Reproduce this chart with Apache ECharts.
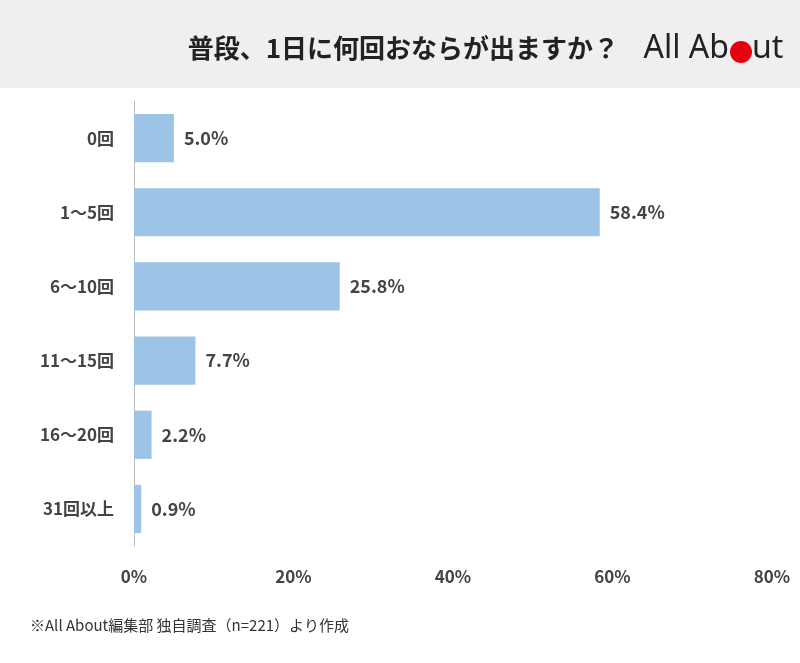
<!DOCTYPE html>
<html><head><meta charset="utf-8">
<script src="https://cdn.jsdelivr.net/npm/echarts@6/dist/echarts.min.js"></script>
<style>html,body{margin:0;padding:0;background:#fff}#c{width:800px;height:663px}</style>
</head><body><div id="c"></div>
<script>
const categories = ['0回','1〜5回','6〜10回','11〜15回','16〜20回','31回以上'];
const values = [5.0, 58.4, 25.8, 7.7, 2.2, 0.9];
const xTicks = [0, 20, 40, 60, 80];
const F = '"Noto Sans CJK JP","Noto Sans",sans-serif';
const chart = echarts.init(document.getElementById('c'));
chart.setOption({
  backgroundColor: '#fff',
  graphic: [
    {type:'rect', shape:{x:0,y:0,width:800,height:88}, style:{fill:'#efefef'}},
    {type:'text', x:619, y:48, style:{text:'普段、1日に何回おならが出ますか？', font:'bold 26px '+F, fill:'#222', textAlign:'right', textVerticalAlign:'middle'}},
    {type:'text', x:729, y:49, style:{text:'All Ab', font:'32px "Noto Sans",sans-serif', fill:'#222', textAlign:'right', textVerticalAlign:'middle'}},
    {type:'circle', shape:{cx:741, cy:52, r:11}, style:{fill:'#e60012'}},
    {type:'text', x:752, y:49, style:{text:'ut', font:'32px "Noto Sans",sans-serif', fill:'#222', textAlign:'left', textVerticalAlign:'middle'}},
    {type:'text', left:30, top:618, style:{text:'※All About編集部 独自調査（n=221）より作成', font:'15px '+F, fill:'#333'}}
  ],
  grid: {left:134, right:28, top:101, bottom:117},
  xAxis: {type:'value', min:0, max:80, interval:20,
    axisLabel:{formatter:'{value}%', color:'#444', fontSize:17, fontWeight:'bold', fontFamily:F, margin:22},
    splitLine:{show:false}, axisLine:{show:false}, axisTick:{show:false}},
  yAxis: {type:'category', data:categories, inverse:true,
    axisLabel:{color:'#444', fontSize:17, fontWeight:'bold', fontFamily:F, margin:20},
    axisLine:{show:true, lineStyle:{color:'#bbb'}}, axisTick:{show:false}},
  series: [{type:'bar', data:values, barCategoryGap:'35%',
    itemStyle:{color:'#9dc3e6'},
    label:{show:true, position:'right', distance:10, formatter:p=>p.value.toFixed(1)+'%',
      color:'#444', fontSize:18, fontWeight:'bold', fontFamily:F}}]
});
</script></body></html>
